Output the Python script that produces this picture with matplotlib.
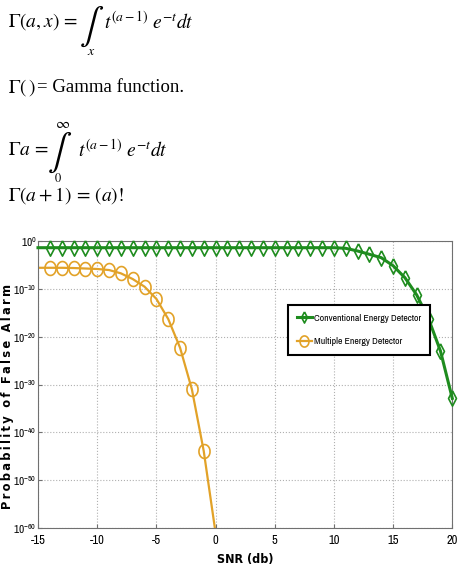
import matplotlib
matplotlib.use("Agg")
import matplotlib.pyplot as plt
import numpy as np

plt.rcParams['mathtext.fontset'] = 'stix'
narrow = ['Arial Narrow', 'Liberation Sans Narrow', 'Archivo Narrow', 'PT Sans Narrow',
          'Roboto Condensed', 'Liberation Sans']
plt.rcParams['mathtext.rm'] = 'Archivo Narrow'
plt.rcParams['mathtext.it'] = 'Archivo Narrow'

# log10 of probability of false alarm
snr_conv = list(range(-15, 21))
pfa_conv_log = [-1.4] * 26 + [-1.53, -2.09, -2.78, -3.49, -5.17, -7.68, -11.3, -16.3, -23.0, -32.9]

snr_multi = list(range(-15, 1))
pfa_multi_log = [-5.6, -5.6, -5.6, -5.65, -5.75, -5.85, -6.07, -6.76, -7.95, -9.55,
                 -12.1, -16.3, -22.3, -31.0, -43.9, -61.0]

xticks = [-15, -10, -5, 0, 5, 10, 15, 20]
yticks_exp = [0, -10, -20, -30, -40, -50, -60]

W, H = 459, 573
fig = plt.figure(figsize=(W / 100, H / 100), dpi=100)


def fx(px):
    return px / W


def fy(py):
    return 1 - py / H


# equations on top
serif = 'Liberation Serif'
fig.text(fx(8), fy(22), r'$\Gamma(a,x)\,=$', fontsize=14, va='center')
fig.text(fx(92), fy(27), r'$\int$', fontsize=26, va='center', ha='center')
fig.text(fx(91), fy(51), r'$x$', fontsize=10, va='center', ha='center')
fig.text(fx(104), fy(22), r'$t^{(a-1)}\;e^{-t}dt$', fontsize=14, va='center')

fig.text(fx(8), fy(88), r'$\Gamma(\,)$', fontsize=14, va='center')
fig.text(fx(37), fy(88), '= Gamma function.', fontsize=13.5, va='center', family=serif)

fig.text(fx(63), fy(124), r'$\infty$', fontsize=11, va='center', ha='center')
fig.text(fx(8), fy(150), r'$\Gamma a\,=$', fontsize=14, va='center')
fig.text(fx(60), fy(153), r'$\int$', fontsize=26, va='center', ha='center')
fig.text(fx(58), fy(179), r'$0$', fontsize=9, va='center', ha='center')
fig.text(fx(78), fy(150), r'$t^{(a-1)}\;e^{-t}dt$', fontsize=14, va='center')

fig.text(fx(8), fy(196), r'$\Gamma(a+1)\,=\,(a)!$', fontsize=14, va='center')

# chart
ax = fig.add_axes([fx(38), fy(528), fx(452.3) - fx(38), fy(241) - fy(528)])

green = '#1e8c1e'
orange = '#e2a228'
diamond = [(0, 1), (0.52, 0), (0, -1), (-0.52, 0), (0, 1)]
th = np.linspace(0, 2 * np.pi, 40)
ellipse = list(zip(0.8 * np.cos(th), np.sin(th)))

ax.plot(snr_conv, 10.0 ** np.array(pfa_conv_log), color=green, lw=2.2,
        marker=diamond, ms=11, mfc='none', mec=green, mew=1.2, markevery=slice(1, None),
        label='Conventional Energy Detector', clip_on=False, zorder=3)
ax.plot(snr_multi, 10.0 ** np.array(pfa_multi_log), color=orange, lw=1.6,
        marker=ellipse, ms=10, mfc='none', mec=orange, mew=1.2, markevery=slice(1, 15),
        label='Multiple Energy Detector')

ax.set_yscale('log')
ax.set_xlim(-15, 20)
ax.set_ylim(1e-60, 1)
ax.set_xticks(xticks)
ax.set_xticklabels([str(v) for v in xticks])
ax.set_yticks([10.0 ** e for e in yticks_exp])
ax.set_yticklabels([r'$\mathregular{10^{%s}}$' % str(e).replace('-', '{-}') for e in yticks_exp])
ax.minorticks_off()
ax.grid(True, color='#b0b0b0', ls=':', lw=0.8)
for s in ax.spines.values():
    s.set_color('#707070')
ax.tick_params(direction='in', length=3, color='#707070', labelsize=8.2, pad=1)
ax.tick_params(axis='x', pad=5, labelsize=9)
for lab in ax.get_xticklabels() + ax.get_yticklabels():
    lab.set_family(narrow)
    lab.set_math_fontfamily('custom')

ax.set_xlabel('SNR (db)', fontsize=9, fontweight='bold', family='DejaVu Sans',
              fontstretch='condensed', labelpad=5)
ax.set_ylabel('\u2009'.join('Probability of False Alarm'), fontsize=8.3,
              fontweight='bold', family='DejaVu Sans')
ax.yaxis.set_label_coords(-0.057, 0.46)

leg = ax.legend(loc='upper left', bbox_to_anchor=(0.603, 0.777),
                frameon=True, fancybox=False, edgecolor='black', handlelength=1.6,
                handletextpad=0.2, borderpad=0.9, labelspacing=1.5, borderaxespad=0,
                prop={'family': narrow, 'size': 7})
leg.get_frame().set_linewidth(1.5)
leg.get_frame().set_alpha(1)
for h in leg.legend_handles:
    h.set_markersize(8)

fig.savefig('out.png', dpi=100)
